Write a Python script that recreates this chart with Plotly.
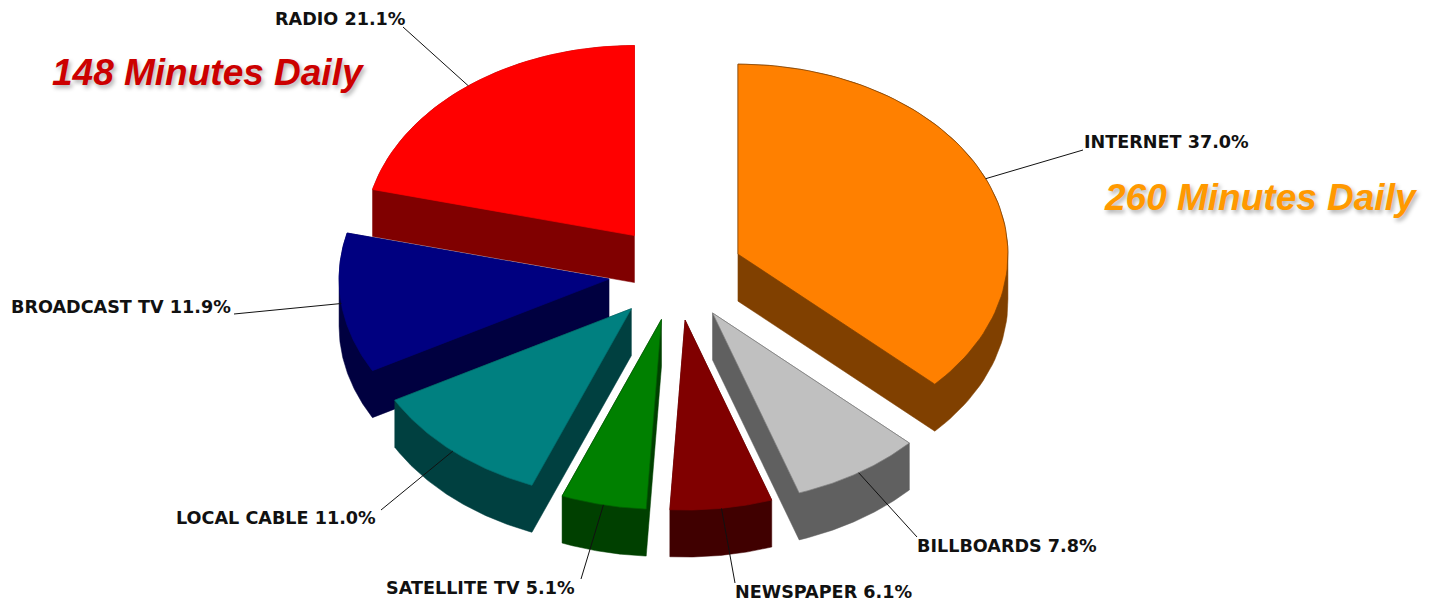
import numpy as np
import plotly.graph_objects as go

# ---- data ----
categories = ["INTERNET", "BILLBOARDS", "NEWSPAPER", "SATELLITE TV", "LOCAL CABLE", "BROADCAST TV", "RADIO"]
shares = [37.0, 7.8, 6.1, 5.1, 11.0, 11.9, 21.1]

# ---- styles ----
top_colors = ["#FF8000", "#C0C0C0", "#800000", "#008000", "#008080", "#000080", "#FF0000"]
side_colors = ["#804000", "#606060", "#400000", "#004000", "#004040", "#000040", "#800000"]
edge_colors = ["#804000", "#808080", "#800000", "#006000", "#007070", "#000080", "#FF0000"]

# ---- layout of the pie ----
CX, CY = 676.0, 273.0
RX, RY = 270.0, 190.0
EXPLODE = 0.25
DEPTH = 47.0

label_anchor = [(1082, 142), (915, 546), (733, 592), (384, 588), (174, 518), (9, 307), (273, 19)]
leader_end = [(1083, 150), (917, 537), (735, 583), (581, 579), (381, 510), (234, 314), (403, 27)]
label_size = 17.6


def hull(points):
    pts = sorted(set(points))
    def half(seq):
        out = []
        for p in seq:
            while len(out) >= 2 and (out[-1][0] - out[-2][0]) * (p[1] - out[-2][1]) - (out[-1][1] - out[-2][1]) * (p[0] - out[-2][0]) <= 0:
                out.pop()
            out.append(p)
        return out[:-1]
    return half(pts) + half(pts[::-1])


total = sum(shares)
edges = np.concatenate([[0.0], np.cumsum(shares)]) / total * 2 * np.pi
mids = (edges[:-1] + edges[1:]) / 2

fig = go.Figure()
leaders = []
for i in sorted(range(len(shares)), key=lambda k: -np.cos(mids[k])):
    ax = CX + EXPLODE * RX * np.sin(mids[i])
    ay = CY - EXPLODE * RY * np.cos(mids[i])
    t = np.linspace(edges[i], edges[i + 1], 80)
    xs = np.concatenate([[ax], ax + RX * np.sin(t), [ax]])
    ys = np.concatenate([[ay], ay - RY * np.cos(t), [ay]])
    pts = [(float(a), float(b)) for a, b in zip(xs, ys)]
    h = hull(pts + [(a, b + DEPTH) for a, b in pts])
    fig.add_trace(go.Scatter(x=[p[0] for p in h] + [h[0][0]], y=[p[1] for p in h] + [h[0][1]],
                             mode="lines", fill="toself", fillcolor=side_colors[i],
                             line=dict(color=side_colors[i], width=0.5), hoverinfo="skip"))
    fig.add_trace(go.Scatter(x=xs, y=ys, mode="lines", fill="toself", fillcolor=top_colors[i],
                             line=dict(color=edge_colors[i], width=0.7), hoverinfo="skip"))
    leaders.append((ax + RX * np.sin(mids[i]), ay - RY * np.cos(mids[i]), i))

for sx, sy, i in leaders:
    fig.add_trace(go.Scatter(x=[sx, leader_end[i][0]], y=[sy, leader_end[i][1]], mode="lines",
                             line=dict(color="#111111", width=1), hoverinfo="skip"))

annotations = []
for i, name in enumerate(categories):
    annotations.append(dict(x=label_anchor[i][0], y=label_anchor[i][1], xref="x", yref="y",
                            text=f"{name} {shares[i]:.1f}%", showarrow=False, xanchor="left", yanchor="middle",
                            font=dict(family="DejaVu Sans", size=label_size, color="#111111", weight="bold")))

headlines = [("148 Minutes Daily", 50, 72, "#CC0000"), ("260 Minutes Daily", 1102, 197, "#FF9900")]
for text, x, y, color in headlines:
    annotations.append(dict(x=x, y=y, xref="x", yref="y", text=f"<b><i>{text}</i></b>", showarrow=False,
                            xanchor="left", yanchor="middle",
                            font=dict(family="Liberation Sans", size=37, color=color,
                                      shadow="2px 3px 4px rgba(0,0,0,0.3)")))

fig.update_layout(width=1429, height=602, margin=dict(l=0, r=0, t=0, b=0), showlegend=False,
                  paper_bgcolor="white", plot_bgcolor="white",
                  xaxis=dict(range=[0, 1429], visible=False, fixedrange=True),
                  yaxis=dict(range=[602, 0], visible=False, fixedrange=True),
                  annotations=annotations)
fig.write_html("out.html", config={"displayModeBar": False},
               post_script='document.body.style.margin="0";document.body.style.overflow="hidden";')
